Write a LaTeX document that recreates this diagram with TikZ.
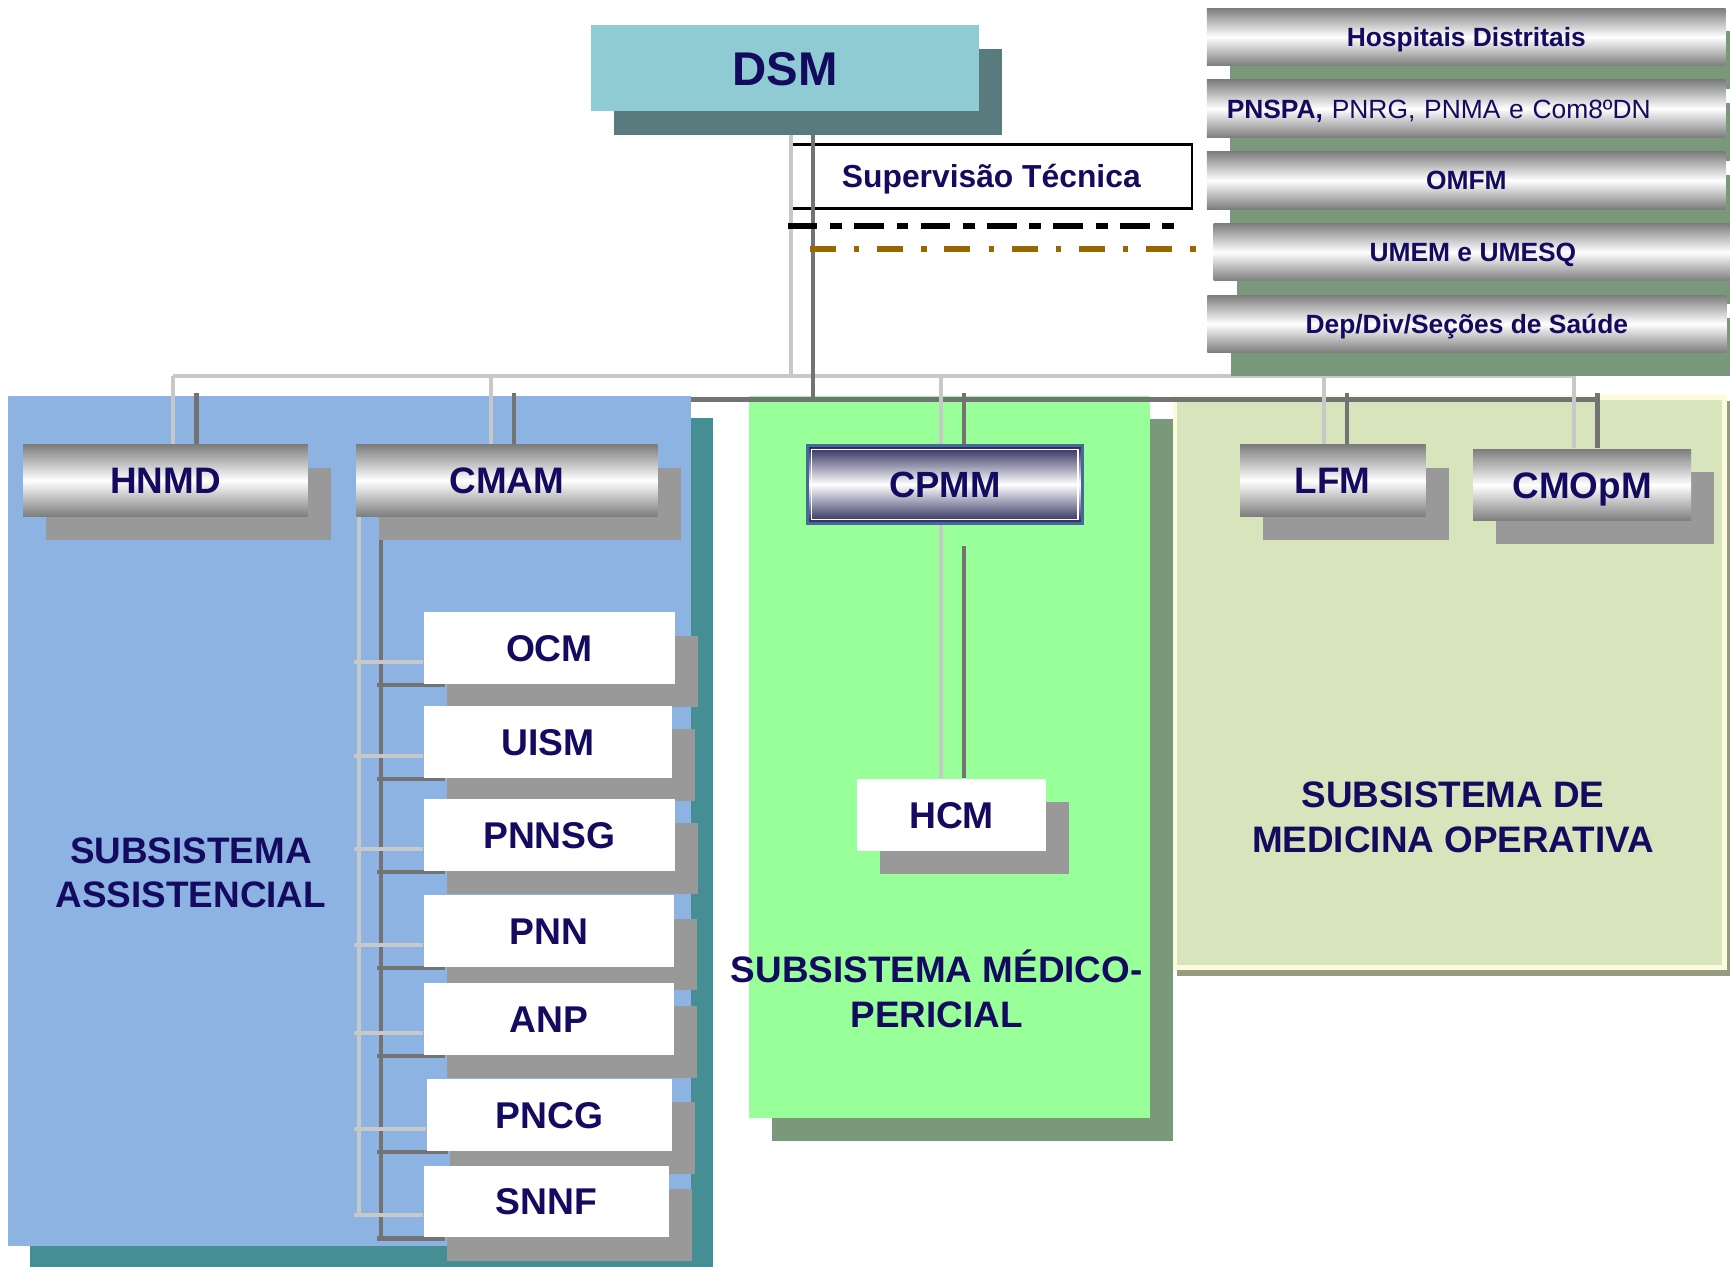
\documentclass[tikz,border=0pt]{standalone}
\usepackage{fontspec}
\setmainfont{Liberation Sans}
\usetikzlibrary{shadows}
\pgfdeclarelayer{panels}
\pgfdeclarelayer{lines}
\pgfsetlayers{panels,lines,main}
\definecolor{navy}{RGB}{20,10,96}
\definecolor{teal1}{RGB}{143,203,210}
\definecolor{teal2}{RGB}{89,123,125}
\definecolor{bluep}{RGB}{141,179,226}
\definecolor{bluesh}{RGB}{69,142,148}
\definecolor{greenp}{RGB}{153,255,153}
\definecolor{greensh}{RGB}{122,153,122}
\definecolor{khaki}{RGB}{216,228,188}
\definecolor{khakish}{RGB}{150,155,130}
\definecolor{cream}{RGB}{252,252,220}
\definecolor{shgray}{RGB}{153,153,153}
\definecolor{metal}{RGB}{125,125,125}
\definecolor{cpnavy}{RGB}{38,34,85}
\definecolor{cpblue}{RGB}{70,105,155}
\definecolor{litegray}{RGB}{200,200,200}
\definecolor{lndark}{RGB}{115,115,115}
\definecolor{brownd}{RGB}{153,102,0}
\begin{document}
\begin{tikzpicture}[x=0.01cm, y=-0.01cm,
  shd/.style={drop shadow={shadow xshift=0.21cm, shadow yshift=-0.21cm, opacity=1, fill=#1}},
  dsmbox/.style={fill=teal1, minimum width=3.51cm, minimum height=0.78cm, inner sep=0pt,
    text=navy, font=\fontsize{12.2}{14}\selectfont\bfseries, text height=8.75pt, text depth=0pt, shd=teal2},
  supbox/.style={draw=black, line width=0.6pt, minimum width=3.63cm, minimum height=0.58cm, inner sep=0pt,
    text=navy, font=\fontsize{8.2}{10}\selectfont\bfseries, text height=5.9pt, text depth=0pt},
  stackbar/.style={top color=metal, bottom color=metal, middle color=white, minimum width=4.7cm,
    minimum height=0.52cm, inner sep=0pt, text=navy, font=\fontsize{6.8}{8}\selectfont\bfseries,
    text height=4.9pt, text depth=0pt, shd=greensh},
  metbox/.style={top color=metal, bottom color=metal, middle color=white, minimum height=0.65cm,
    inner sep=0pt, text=navy, font=\fontsize{9.5}{11}\selectfont\bfseries, text height=6.8pt,
    text depth=0pt, shd=shgray},
  cpbox/.style={top color=cpnavy, bottom color=cpnavy, middle color=white, draw=cpblue, line width=0.8pt,
    minimum width=2.49cm, minimum height=0.71cm, inner sep=0pt, text=navy,
    font=\fontsize{9.4}{11}\selectfont\bfseries, text height=6.7pt, text depth=0pt,
    path picture={\draw[white, line width=0.35pt]
      ([shift={(1.1pt,-1.1pt)}]path picture bounding box.north west) rectangle
      ([shift={(-1.1pt,1.1pt)}]path picture bounding box.south east);}},
  whbox/.style={fill=white, minimum height=0.65cm, inner sep=0pt, text=navy,
    font=\fontsize{9.6}{11}\selectfont\bfseries, text height=6.9pt, text depth=0pt, shd=shgray},
  paneltxt/.style={text=navy, font=\fontsize{9.5}{11.5}\selectfont\bfseries, align=center},
  liteln/.style={draw=litegray, line width=1pt},
  darkln/.style={draw=lndark, line width=1.1pt},
  blkdash/.style={draw=black, line width=1.45pt, dash pattern=on 7.65pt off 3.27pt on 3.04pt off 3.16pt},
  browndash/.style={draw=brownd, line width=1.45pt, dash pattern=on 6.69pt off 4.72pt on 1.37pt off 4.55pt}]
\useasboundingbox (0,0) rectangle (1568,1148);
\coordinate (lbusL) at (157,341);
\coordinate (lbusR) at (1427,341);
\coordinate (dbusL) at (178,362);
\coordinate (dbusR) at (1448,362);

% top
\node[dsmbox] (dsm) at (711.5,62) {DSM};
\node[stackbar] (hd) at (1329,33.5) {Hospitais Distritais};
\node[stackbar, text width=4.34cm, align=left, inner xsep=0.18cm] (pnspa) at (1329,98.5)
  {PNSPA, {\mdseries PNRG, PNMA e Com8ºDN}};
\node[stackbar] (omfm) at (1329,163.5) {OMFM};
\node[stackbar] (umem) at (1335,228.5) {UMEM e UMESQ};
\node[stackbar] (dep) at (1329.5,293.5) {Dep/Div/Seções de Saúde};

% second level
\node[metbox, minimum width=2.58cm] (hnmd) at (150,435.5) {HNMD};
\node[metbox, minimum width=2.73cm] (cmam) at (459.5,435.5) {CMAM};
\node[cpbox] (cpmm) at (856.5,439) {CPMM};
\node[metbox, minimum width=1.68cm] (lfm) at (1208,435.5) {LFM};
\node[metbox, minimum width=1.975cm] (cmopm) at (1434,439.5) {CMOpM};
\node[whbox, minimum width=1.71cm] (hcm) at (862.5,738.5) {HCM};
\foreach \n/\x/\y/\w/\t in {ocm/498/587.5/2.28/OCM, uism/496.5/672.5/2.25/UISM,
    pnnsg/498/757/2.28/PNNSG, pnn/497.5/844/2.27/PNN, anp/497.5/923.5/2.27/ANP,
    pncg/498/1010.75/2.22/PNCG, snnf/495/1089/2.22/SNNF}
  \node[whbox, minimum width=\w cm] (\n) at (\x,\y) {\t};

% subsistemas
\node[paneltxt] (sass) at (173,791) {SUBSISTEMA\\ASSISTENCIAL};
\node[paneltxt] (smp) at (849,896) {SUBSISTEMA MÉDICO-\\PERICIAL};
\node[paneltxt] (smo) at (1317,741) {SUBSISTEMA DE\\MEDICINA OPERATIVA};

\draw[blkdash] (714,205) -- (1067,205);
\draw[browndash] (734,225.5) -- (1085,225.5);

\begin{pgfonlayer}{panels}
  \fill[greensh] (700,380) rectangle (1063,1034);
  \fill[greenp] (679,359) rectangle (1042,1013);
  \fill[khakish] (1067,363) rectangle (1572,885);
  \filldraw[fill=khaki, draw=cream, line width=1.2pt] (1065,360) rectangle (1563,877);
  \draw[darkln] (dbusL) -- (dbusR);
  \fill[bluesh] (27,379) rectangle (646,1160);
  \fill[bluep] (7,359) rectangle (626,1129);
\end{pgfonlayer}

\begin{pgfonlayer}{lines}
  \node[supbox] (sup) at (898.5,160) {Supervisão Técnica};
  \draw[liteln] (lbusL) -- (lbusR);
  \draw[liteln] (dsm.south -| 717,0) -- (717,341);
  \draw[darkln] (dsm.south -| 737,0) -- (737,362);
  \foreach \n/\lx in {hnmd/157,cmam/445,cpmm/853,lfm/1200,cmopm/1427}{
    \draw[liteln] (\lx,341) -- (\n.north -| \lx,0);
    \draw[darkln] (\lx+21,356) -- (\n.north -| \lx+21,0);
  }
  % cpmm - hcm
  \draw[liteln] (cpmm.south -| 853,0) -- (hcm.north -| 853,0);
  \draw[darkln] (874,495) -- (hcm.north -| 874,0);
  % cmam - filhos
  \draw[liteln] (cmam.south -| 325,0) -- (325,1102);
  \draw[darkln] (345,489) -- (345,1123);
  \foreach \n in {ocm,uism,pnnsg,pnn,anp,pncg,snnf}{
    \path ([yshift=-0.125cm]\n.west) coordinate (l)
          ([shift={(0.2cm,-0.335cm)}]\n.west) coordinate (d);
    \draw[liteln] (l -| 321,0) -- (l);
    \draw[darkln] (d -| 342,0) -- (d);
  }
\end{pgfonlayer}
\end{tikzpicture}
\end{document}
